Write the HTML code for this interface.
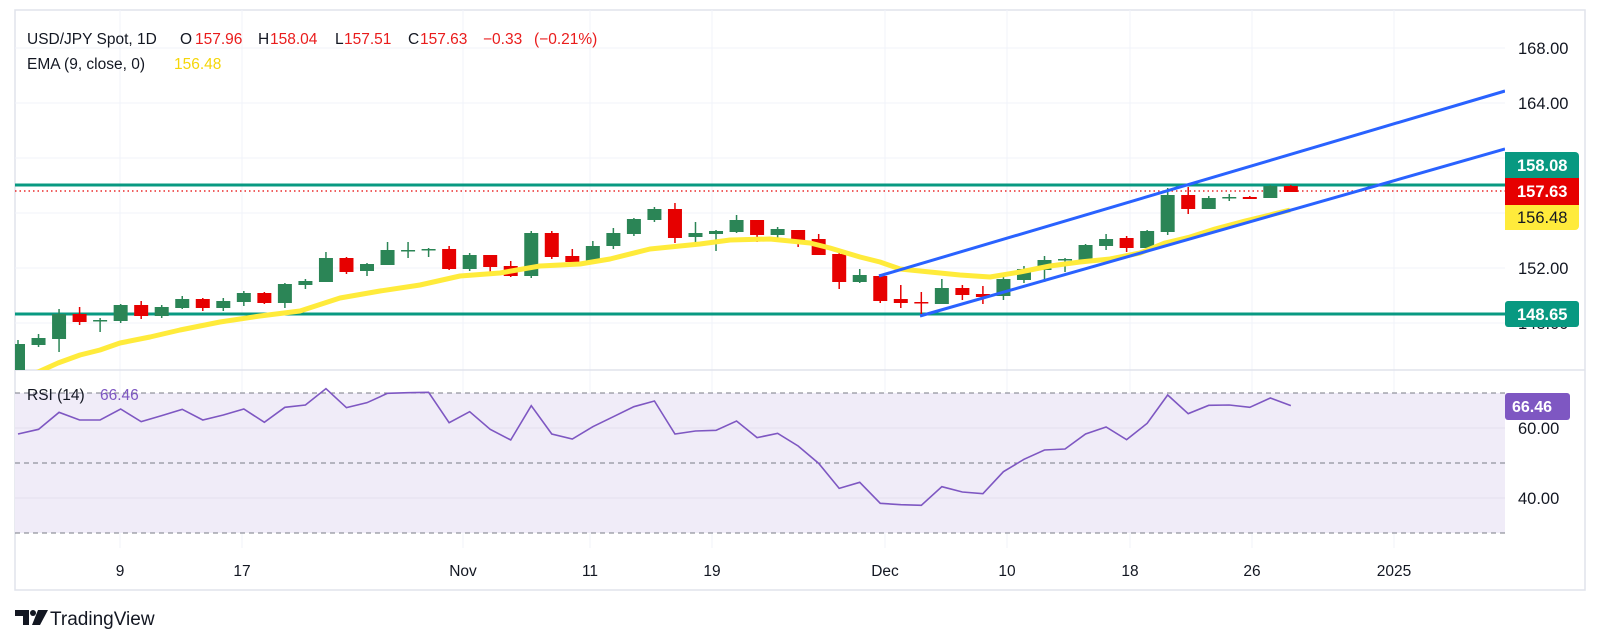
<!DOCTYPE html>
<html><head><meta charset="utf-8"><style>
html,body{margin:0;padding:0;background:#fff;width:1601px;height:644px;overflow:hidden}
svg{display:block;font-family:"Liberation Sans","DejaVu Sans",sans-serif}
</style></head><body>
<svg id="s" width="1601" height="644" viewBox="0 0 1601 644" xmlns="http://www.w3.org/2000/svg">
<defs><clipPath id="cp"><rect x="15" y="10" width="1490" height="360"/></clipPath>
<clipPath id="cr"><rect x="15" y="371" width="1490" height="162"/></clipPath></defs>
<rect x="15" y="10" width="1570" height="580" fill="#fff" stroke="#e0e3eb" stroke-width="1.5"/>
<g id="grid" stroke="#f0f3fa" stroke-width="1"></g>
<rect x="15" y="393" width="1490" height="140" fill="#f0ecf8"/>
<g stroke="#e3e0ee"><line x1="15" y1="428" x2="1505" y2="428"/><line x1="15" y1="498" x2="1505" y2="498"/></g>
<g stroke="#787b86" stroke-dasharray="5,4" stroke-width="1"><line x1="15" y1="393" x2="1505" y2="393"/><line x1="15" y1="463" x2="1505" y2="463"/><line x1="15" y1="533" x2="1505" y2="533"/></g>
<line x1="15" y1="370" x2="1585" y2="370" stroke="#e0e3eb" stroke-width="1.5"/>
<g clip-path="url(#cp)">
<line x1="15" y1="185" x2="1505" y2="185" stroke="#089981" stroke-width="3"/>
<line x1="15" y1="314" x2="1505" y2="314" stroke="#089981" stroke-width="3"/>
<line x1="15" y1="191" x2="1505" y2="191" stroke="#e60000" stroke-width="1.2" stroke-dasharray="1.5,3"/>
<g id="candles"></g>
<polyline id="ema" fill="none" stroke="#ffeb3b" stroke-width="5" stroke-linejoin="round"/>
<line x1="879" y1="276" x2="1505" y2="91" stroke="#2962ff" stroke-width="3"/>
<line x1="920" y1="316" x2="1505" y2="149" stroke="#2962ff" stroke-width="3"/>
</g>
<polyline id="rsi" clip-path="url(#cr)" fill="none" stroke="#7e57c2" stroke-width="1.6"/>
<g font-size="16.5" fill="#131722">
<text x="1518" y="54">168.00</text><text x="1518" y="109">164.00</text><text x="1518" y="274">152.00</text><text x="1518" y="329">148.00</text>
<text x="1518" y="434">60.00</text><text x="1518" y="504">40.00</text>
</g>
<path d="M1505 152h70a4 4 0 0 1 4 4v22h-74z" fill="#089981"/>
<rect x="1505" y="178" width="74" height="27" fill="#e60000"/>
<path d="M1505 205h74v21a4 4 0 0 1 -4 4h-70z" fill="#ffeb3b"/>
<rect x="1505" y="301" width="74" height="26" rx="3" fill="#089981"/>
<rect x="1505" y="393" width="65" height="27" rx="3" fill="#7e57c2"/>
<g font-size="16.5" font-weight="bold">
<text x="1517" y="171" fill="#fff">158.08</text>
<text x="1517" y="197" fill="#fff">157.63</text>
<text x="1517" y="223" fill="#131722" font-weight="normal">156.48</text>
<text x="1517" y="320" fill="#fff">148.65</text>
<text x="1512" y="412" fill="#fff" font-size="16">66.46</text>
</g>
<g font-size="15.5" fill="#131722" text-anchor="middle" id="dates"></g>
<g font-size="15.5">
<text x="27" y="44" fill="#131722">USD/JPY Spot, 1D</text>
<text x="180" y="44" fill="#131722">O</text><text x="195" y="44" fill="#e91c1c">157.96</text>
<text x="258" y="44" fill="#131722">H</text><text x="270" y="44" fill="#e91c1c">158.04</text>
<text x="335" y="44" fill="#131722">L</text><text x="344" y="44" fill="#e91c1c">157.51</text>
<text x="408" y="44" fill="#131722">C</text><text x="420" y="44" fill="#e91c1c">157.63</text>
<text x="483" y="44" fill="#e91c1c">−0.33</text><text x="534" y="44" fill="#e91c1c">(−0.21%)</text>
<text x="27" y="69" fill="#131722">EMA (9, close, 0)</text><text x="174" y="69" fill="#f5d60a">156.48</text>
<text x="27" y="400" fill="#131722">RSI (14)</text><text x="100" y="400" fill="#7e57c2">66.46</text>
</g>
<g fill="#131722"><path d="M15 610h14v15h-6v-9h-8z"/><circle cx="33" cy="613" r="3"/><path d="M38 610h10l-8 15h-8z"/></g>
<text x="50" y="625" font-size="19" fill="#131722">TradingView</text>
</svg>
<script>
var X=function(i){return 18+20.53*i;};
var C=[[344,372,340,372,'g'],[338,345,334,347,'g'],[314,339,309,352,'g'],[314,322,307,325,'r'],[320,320,318,332,'g'],[305,321,304,323,'g'],[305,316,301,319,'r'],[307,316,305,318,'g'],[299,308,296,309,'g'],[299,308,298,311,'r'],[301,308,298,311,'g'],[293,302,291,306,'g'],[293,303,292,304,'r'],[284,303,283,308,'g'],[281,285,279,289,'g'],[258,282,252,282,'g'],[258,272,257,274,'r'],[264,271,263,276,'g'],[250,265,242,265,'g'],[250,250,242,258,'g'],[249,249,248,257,'g'],[249,269,246,270,'r'],[255,269,253,271,'g'],[255,267,255,275,'r'],[266,276,261,277,'r'],[233,276,231,278,'g'],
[233,257,231,259,'r'],[256,262,249,266,'r'],[246,261,241,261,'g'],[233,246,228,249,'g'],[219,234,218,236,'g'],[209,220,207,222,'g'],[209,238,203,243,'r'],[233,237,222,243,'g'],[231,234,230,251,'g'],[220,232,215,233,'g'],[220,235,220,242,'r'],[229,235,227,241,'g'],[230,240,230,247,'r'],[239,255,234,255,'r'],[254,282,251,289,'r'],[275,282,269,283,'g'],[276,301,274,303,'r'],[299,303,285,308,'r'],[302,302,292,314,'r'],[288,304,279,304,'g'],[288,295,285,300,'r'],[294,297,286,304,'r'],[279,296,277,300,'g'],[269,280,266,283,'g'],[260,270,256,282,'g'],[259,259,258,272,'g'],[245,260,244,261,'g'],
[239,246,234,250,'g'],[238,248,236,252,'r'],[231,248,230,250,'g'],[195,232,188,235,'g'],[195,209,187,214,'r'],[198,209,196,209,'g'],[197,197,194,201,'g'],[197,199,196,199,'r'],[186,198,185,198,'g'],[186,192,185,192,'r']];
var g=document.getElementById('candles'),h='';
C.forEach(function(c,i){var x=X(i),col=c[4]=='g'?'#2b8556':'#e60000';var t=c[0],b=Math.max(c[1],c[0]+1.5);
h+='<line x1="'+x+'" x2="'+x+'" y1="'+c[2]+'" y2="'+c[3]+'" stroke="'+col+'" stroke-width="1.5"/>';
h+='<rect x="'+(x-7)+'" y="'+t+'" width="14" height="'+(b-t)+'" fill="'+col+'"/>';});
g.innerHTML=h;
var E=[[18,378],[38,372],[58,363],[80,355],[100,350],[120,343],[150,337],[180,330],[220,322],[260,316],[300,311],[340,298],[380,291],[420,285],[460,276],[500,273],[540,266],[580,264],[610,259],[650,249],[700,244],[730,240],[770,239],[810,243],[830,248],[860,257],[880,262],[900,269],[920,271],[960,275],[990,277],[1020,272],[1050,266],[1080,262],[1110,259],[1140,253],[1165,243],[1190,237],[1215,229],[1245,221],[1270,215],[1290,210]];
document.getElementById('ema').setAttribute('points',E.map(function(p){return p.join(',')}).join(' '));
var R=[192,178,127,150,150,117,155,137,118,150,135,117,157,112,105,56,113,98,70,68,67,158,125,178,210,107,192,207,170,140,110,93,192,183,181,153,203,190,228,280,355,337,400,404,406,350,366,371,305,268,240,237,192,171,209,160,75,131,106,105,112,84,107];
document.getElementById('rsi').setAttribute('points',R.map(function(v,i){return X(i)+','+(370+v/3)}).join(' '));
var gr='';[48,103,158,213,268,323].forEach(function(y){gr+='<line x1="15" x2="1505" y1="'+y+'" y2="'+y+'"/>';});
var D=[['9',120],['17',242],['Nov',463],['11',590],['19',712],['Dec',885],['10',1007],['18',1130],['26',1252],['2025',1394]];var dh='';
D.forEach(function(d){var x=d[1];gr+='<line x1="'+x+'" x2="'+x+'" y1="10" y2="548"/>';dh+='<text x="'+x+'" y="576">'+d[0]+'</text>';});
document.getElementById('grid').innerHTML=gr;document.getElementById('dates').innerHTML=dh;
</script>
</body></html>
